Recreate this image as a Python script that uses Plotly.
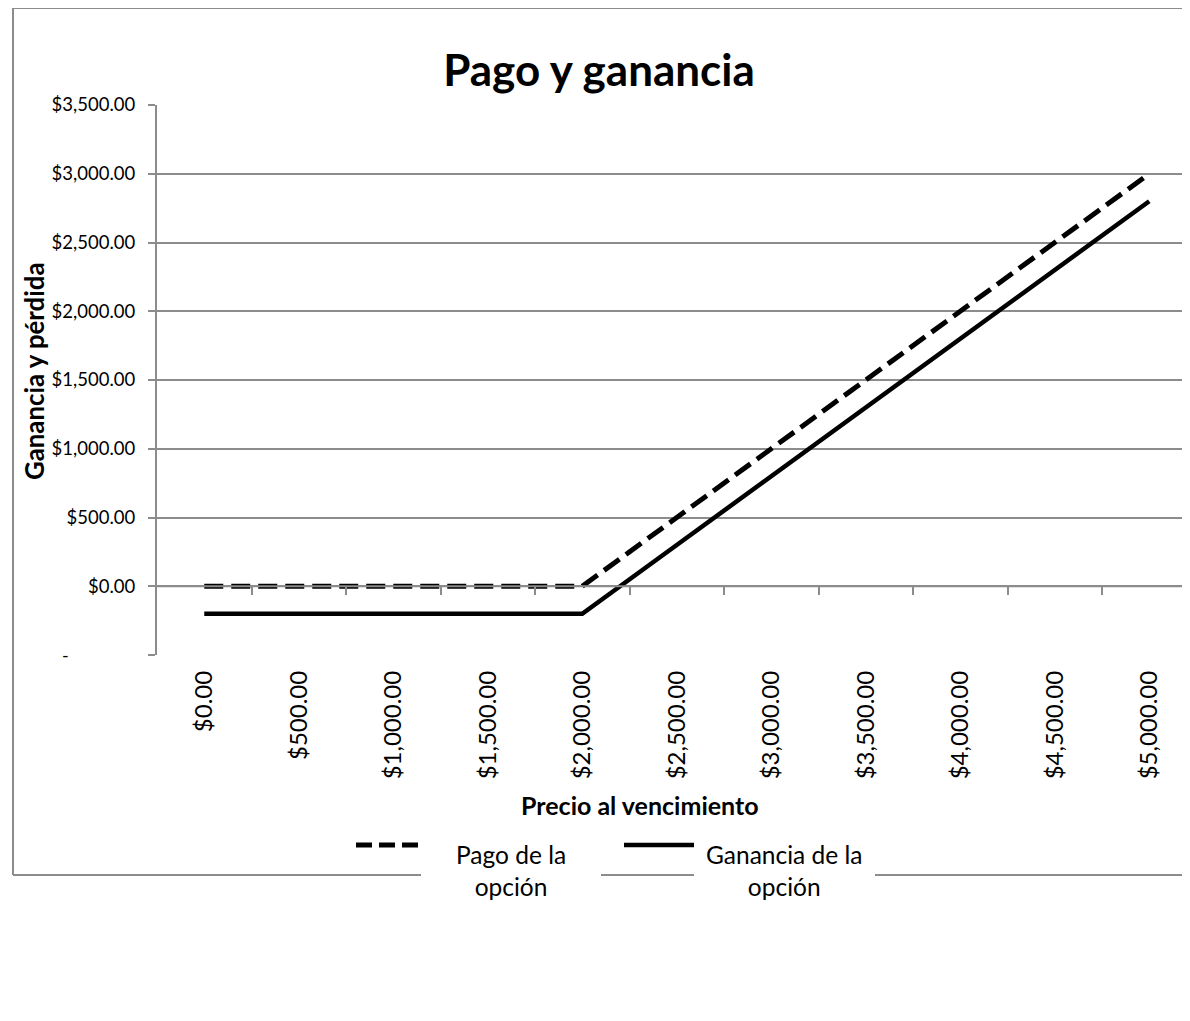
import plotly.graph_objects as go

# ---- data ----
precios = [0, 500, 1000, 1500, 2000, 2500, 3000, 3500, 4000, 4500, 5000]
precio_labels = ["$0.00", "$500.00", "$1,000.00", "$1,500.00", "$2,000.00", "$2,500.00",
                 "$3,000.00", "$3,500.00", "$4,000.00", "$4,500.00", "$5,000.00"]
pago = [0, 0, 0, 0, 0, 500, 1000, 1500, 2000, 2500, 3000]
ganancia = [-200, -200, -200, -200, -200, 300, 800, 1300, 1800, 2300, 2800]
y_vals = [-500, 0, 500, 1000, 1500, 2000, 2500, 3000, 3500]
y_text = ["", "$0.00", "$500.00", "$1,000.00", "$1,500.00", "$2,000.00",
          "$2,500.00", "$3,000.00", "$3,500.00"]

OFF = 8  # page body margin
W, H = 1190 - OFF, 1021 - OFF
L, R, T, B = 157 - OFF, 1190 - OFF, 105 - OFF, 655 - OFF
FONT = "Lato"
GRID = "#8c8c8c"


def px(x):
    return (x - OFF - L) / (R - L)


def py(y):
    return (B - (y - OFF)) / (B - T)


fig = go.Figure()
fig.add_trace(go.Scatter(x=precio_labels, y=pago, mode="lines", name="Pago de la opción",
                         line=dict(color="black", width=5, dash="19px,8px"),
                         showlegend=False))
fig.add_trace(go.Scatter(x=precio_labels, y=ganancia, mode="lines", name="Ganancia de la opción",
                         line=dict(color="black", width=4.5), showlegend=False))

xmax = -0.5 + (R - L) / 94.5

fig.update_layout(
    width=W, height=H,
    margin=dict(l=L, r=W - R, t=T, b=H - B, pad=0),
    paper_bgcolor="white", plot_bgcolor="white",
    font=dict(family=FONT, color="black", size=18),
    title=dict(text="<b>Pago y ganancia</b>", x=0.5, xanchor="center",
               y=1 - (71 - OFF) / H, yanchor="middle", font=dict(size=44, family=FONT)),
    xaxis=dict(type="category", range=[-0.5, xmax], showgrid=False, showline=False,
               zeroline=False, ticks="", tickangle=-90, tickfont=dict(size=24),
               ticklabelstandoff=10),
    xaxis2=dict(overlaying="x", anchor="free", position=0.125, side="bottom",
                range=[-0.5, xmax], tickvals=[i + 0.5 for i in range(10)],
                ticks="outside", ticklen=8, tickwidth=2, tickcolor=GRID,
                showticklabels=False, showgrid=False, showline=False, zeroline=False),
    yaxis=dict(range=[-500, 3500], tickvals=y_vals, ticktext=y_text,
               showgrid=True, gridcolor=GRID, gridwidth=2, zeroline=False,
               showline=True, linecolor=GRID, linewidth=2,
               ticks="outside", ticklen=7, tickwidth=2, tickcolor=GRID,
               tickfont=dict(size=18.5), ticklabelstandoff=9),
)

# dummy trace to make xaxis2 render
fig.add_trace(go.Scatter(x=[None], y=[None], xaxis="x2", showlegend=False, hoverinfo="skip"))

shapes = []
# outer chart border with gaps behind legend text
bl = dict(type="line", xref="paper", yref="paper", line=dict(color=GRID, width=2))
shapes.append(dict(bl, x0=px(13), x1=px(13), y0=py(8), y1=py(875)))
shapes.append(dict(bl, x0=px(13), x1=px(1200), y0=py(8), y1=py(8)))
for a, b in [(13, 421), (601, 694), (875, 1200)]:
    shapes.append(dict(bl, x0=px(a), x1=px(b), y0=py(875), y1=py(875)))
# horizontal axis line at zero
shapes.append(dict(type="line", xref="paper", yref="y", x0=0, x1=1, y0=0, y1=0,
                   line=dict(color=GRID, width=2)))
# legend samples
shapes.append(dict(type="line", xref="paper", yref="paper", x0=px(356), x1=px(421),
                   y0=py(845), y1=py(845), line=dict(color="black", width=5, dash="16px,7px")))
shapes.append(dict(type="line", xref="paper", yref="paper", x0=px(624), x1=px(694),
                   y0=py(845), y1=py(845), line=dict(color="black", width=4.5)))
fig.update_layout(shapes=shapes)

annotations = [
    dict(text="-", xref="paper", yref="y", x=px(65), y=-500, showarrow=False,
         xanchor="center", yanchor="middle", font=dict(size=18)),
    dict(text="<b>Ganancia y pérdida</b>", xref="paper", yref="paper", x=px(34),
         y=py(371), showarrow=False, textangle=-90, xanchor="center", yanchor="middle",
         font=dict(size=25.8)),
    dict(text="<b>Precio al vencimiento</b>", xref="paper", yref="paper", x=px(640),
         y=py(805), showarrow=False, xanchor="center", yanchor="middle", font=dict(size=25)),
    dict(text="Pago de la<br>opción", xref="paper", yref="paper", x=px(511), y=py(871),
         showarrow=False, xanchor="center", yanchor="middle", align="center",
         font=dict(size=24.5)),
    dict(text="Ganancia de la<br>opción", xref="paper", yref="paper", x=px(784), y=py(871),
         showarrow=False, xanchor="center", yanchor="middle", align="center",
         font=dict(size=24.5)),
]
fig.update_layout(annotations=annotations)

fig.write_html("out.html")
